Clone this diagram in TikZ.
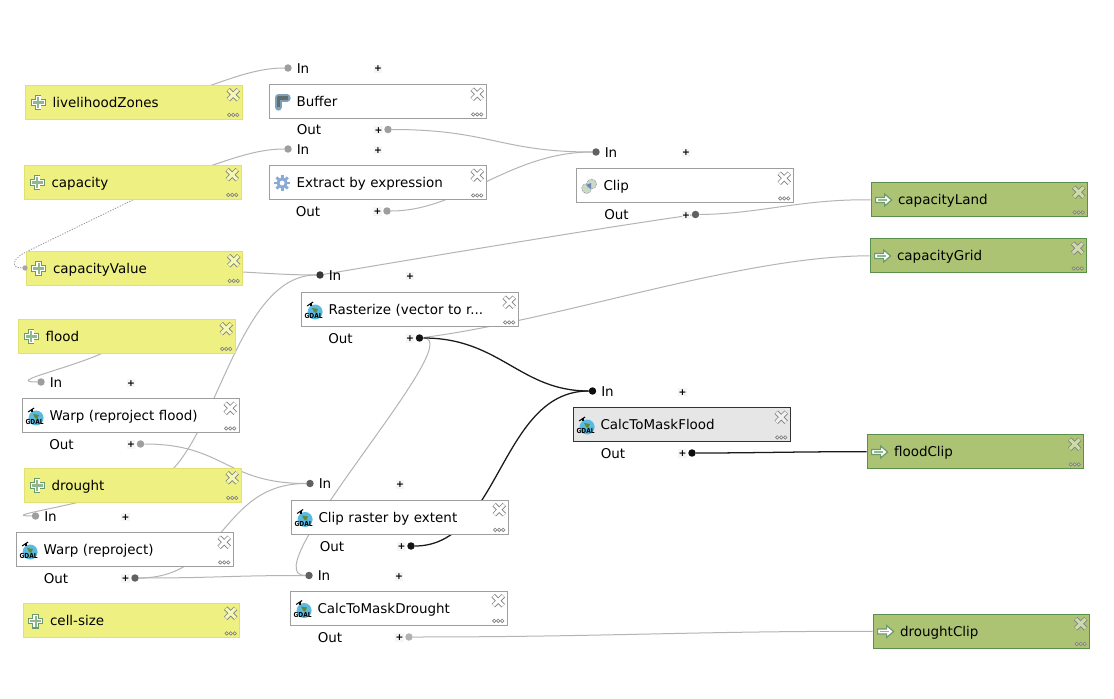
\documentclass[tikz,border=0pt]{standalone}
\usepackage{fontspec}
\setmainfont{DejaVu Sans}
\usetikzlibrary{backgrounds}
\definecolor{inputfill}{HTML}{EEF182}
\definecolor{inputedge}{HTML}{E2E070}
\definecolor{outputfill}{HTML}{ACC373}
\definecolor{outputedge}{HTML}{5B8F4E}
\definecolor{algoedge}{HTML}{9E9E9E}
\definecolor{selfill}{HTML}{E6E6E6}
\definecolor{seledge}{HTML}{333333}
\definecolor{wire}{HTML}{B4B4B4}
\definecolor{wiredark}{HTML}{1A1A1A}
\definecolor{iconedge}{HTML}{6C9A6C}
\definecolor{iconcore}{HTML}{8FB88F}
\definecolor{gearblue}{HTML}{8AAAD6}
\definecolor{bufblue}{HTML}{7FA0B8}
\definecolor{bufgrey}{HTML}{5F6F6F}
\definecolor{globeblue}{HTML}{5BBAE0}
\definecolor{globegreen}{HTML}{5E8A3C}
\definecolor{clipgreen}{HTML}{C9DAC9}
\definecolor{clipblue}{HTML}{6B86B0}
\tikzset{
  boxbase/.style={rectangle,anchor=north west,minimum width=162.4pt,minimum height=25.6pt,
    text width=162.4pt,inner xsep=0pt,inner ysep=0pt,align=left,line width=0.8pt,
    font=\fontsize{10.1}{12}\selectfont,text height=7.6pt,text depth=0pt},
  inputbox/.style={boxbase,fill=inputfill,draw=inputedge},
  outputbox/.style={boxbase,fill=outputfill,draw=outputedge},
  algobox/.style={boxbase,fill=white,draw=algoedge},
  selbox/.style={boxbase,fill=selfill,draw=seledge},
  portdot/.style={circle,inner sep=0pt,minimum size=5.6pt},
  portlabel/.style={anchor=west,inner sep=0pt,font=\fontsize{10.1}{12}\selectfont,text height=7pt,text depth=0pt},
  plusmark/.style={fill=black!4,inner sep=0pt,minimum size=6.5pt,font=\fontsize{7}{7}\bfseries\selectfont,text height=4.5pt,text depth=0pt},
  wireline/.style={draw=wire,line width=0.75pt},
  wirebold/.style={draw=wiredark,line width=0.95pt},
  wiredot/.style={draw=black!40,line width=0.6pt,dash pattern=on 1pt off 1pt},
  pics/closeicon/.style={code={
    \draw[line width=3.6pt,draw=black!50] (-5,-5)--(5,5) (-5,5)--(5,-5);
    \draw[line width=2.3pt,draw=#1!60!white] (-4.8,-4.8)--(4.8,4.8) (-4.8,4.8)--(4.8,-4.8);
  }},
  pics/dotsicon/.style={code={
    \foreach \q in {-4,0,4}{\draw[line width=.5pt,draw=black!50,fill=#1!70!white] (\q,0) circle[radius=1.7];}
  }},
  pics/crossicon/.style={code={
    \draw[line width=5pt,draw=iconedge] (-7.5,0)--(7.5,0) (0,-7.5)--(0,7.5);
    \draw[line width=3.6pt,draw=white] (-6.4,0)--(6.4,0) (0,-6.4)--(0,6.4);
    \draw[line width=1.6pt,draw=iconcore] (-5.5,0)--(5.5,0) (0,-5.5)--(0,5.5);
  }},
  pics/arrowicon/.style={code={
    \draw[line width=.9pt,draw=iconedge,fill=white] (-8,-2.5)--(1,-2.5)--(1,-6)--(8,0)--(1,6)--(1,2.5)--(-8,2.5)--cycle;
    \fill[iconcore] (-6,-.8) rectangle (3,.8);
  }},
  pics/buffericon/.style={code={
    \draw[line width=5.4pt,draw=bufblue,line join=round,line cap=round] (-4,5)--(-4,-4)--(5,-4);
    \draw[line width=2.4pt,draw=bufgrey,line join=round] (-4,5.5)--(-4,-4)--(5.5,-4);
  }},
  pics/gearicon/.style={code={
    \foreach \a in {0,45,...,315}{\draw[line width=2.2pt,draw=gearblue] (0,0)--(\a:8);}
    \fill[gearblue] (0,0) circle[radius=5.6];
    \fill[white] (0,0) circle[radius=2.4];
  }},
  pics/clipicon/.style={code={
    \draw[fill=clipgreen,draw=black!45,line width=.4pt,dash pattern=on .6pt off .6pt] (-2.5,2.5) circle[radius=5];
    \draw[fill=clipgreen,draw=black!45,line width=.4pt,dash pattern=on .6pt off .6pt] (2.5,-2) circle[radius=5];
    \fill[clipblue] (-3,-1)--(2,-3)--(2,3)--cycle;
  }},
  pics/gdalicon/.style={code={
    \fill[globeblue] (1,2) circle[radius=7.5];
    \fill[globegreen] (-2,-2)--(4,-1)--(2,3)--(0,2)--cycle;
    \draw[line width=.8pt,draw=black] (-7,-4)--(-1,-8);
    \fill[black] (-4,-7) rectangle (-2,-4);
    \node[inner sep=0pt,font=\fontsize{5.2}{5}\bfseries\selectfont,text=black,xscale=.85] at (-.5,6.2) {GDAL};
  }},
}
\newcommand{\mnode}[6]{%
  \node[#4] (#1) at (#2-.4,#3-.3) {\hspace*{20.2pt}#6};
  \path ([shift={(13,17.8)}]#1.north west) pic {#5};
}
\newcommand{\decor}[2]{%
  \path ([shift={(-9.5,10)}]#1.north east) pic {closeicon=#2};
  \path ([shift={(-9.5,-5)}]#1.south east) pic {dotsicon=#2};
}
\newcommand{\inport}[4]{%
  \node[portdot,fill=#4] (#1) at (#2,#3) {};
  \node[portlabel] (#1label) at (#2+8.5,#3+.8) {In};
  \node[plusmark] (#1plus) at (#2+90,#3+1) {+};
}
\newcommand{\outport}[4]{%
  \node[portdot,fill=#4] (#1) at (#2,#3) {};
  \node[portlabel] (#1label) at (#2-91.5,#3+.8) {Out};
  \node[plusmark] (#1plus) at (#2-9.5,#3+.5) {+};
}
\begin{document}
\begin{tikzpicture}[x=0.75pt,y=-0.75pt]
\useasboundingbox (0,0) rectangle (1114,699);
% inputs
\mnode{lz}{25.5}{85}{inputbox}{crossicon}{livelihoodZones}\decor{lz}{inputfill}
\mnode{cap}{24.5}{165}{inputbox}{crossicon}{capacity}\decor{cap}{inputfill}
\mnode{capv}{26}{251}{inputbox}{crossicon}{capacityValue}\decor{capv}{inputfill}
\mnode{flood}{18.5}{319}{inputbox}{crossicon}{flood}\decor{flood}{inputfill}
\mnode{drought}{24.5}{468}{inputbox}{crossicon}{drought}\decor{drought}{inputfill}
\mnode{cell}{23}{603.5}{inputbox}{crossicon}{cell-size}\decor{cell}{inputfill}
% algorithms
\mnode{warpf}{22.5}{398.5}{algobox}{gdalicon}{Warp (reproject flood)}\decor{warpf}{white}
\mnode{warp}{16.5}{532.5}{algobox}{gdalicon}{Warp (reproject)}\decor{warp}{white}
\mnode{buffer}{269.5}{84.5}{algobox}{buffericon}{Buffer}\decor{buffer}{white}
\mnode{extract}{269.5}{165.5}{algobox}{gearicon}{Extract by expression}\decor{extract}{white}
\mnode{raster}{301.5}{292.5}{algobox}{gdalicon}{Rasterize (vector to r...}\decor{raster}{white}
\mnode{clipr}{291.5}{500}{algobox}{gdalicon}{Clip raster by extent}\decor{clipr}{white}
\mnode{calcd}{290.5}{591}{algobox}{gdalicon}{CalcToMaskDrought}\decor{calcd}{white}
\mnode{clip}{576.5}{168.5}{algobox}{clipicon}{Clip}\decor{clip}{white}
\mnode{calcf}{573.5}{407.5}{selbox}{gdalicon}{CalcToMaskFlood}\decor{calcf}{selfill}
% outputs
\mnode{land}{871}{182.5}{outputbox}{arrowicon}{capacityLand}\decor{land}{outputfill}
\mnode{grid}{870}{238.5}{outputbox}{arrowicon}{capacityGrid}\decor{grid}{outputfill}
\mnode{fclip}{867}{434.5}{outputbox}{arrowicon}{floodClip}\decor{fclip}{outputfill}
\mnode{dclip}{873}{614}{outputbox}{arrowicon}{droughtClip}\decor{dclip}{outputfill}
% ports
\inport{bufferin}{288}{68}{black!38}
\outport{bufferout}{388}{129.5}{black!38}
\inport{extractin}{288}{149}{black!38}
\outport{extractout}{387}{211}{black!38}
\inport{clipin}{596}{152}{black!62}
\outport{clipout}{695.5}{214.5}{black!62}
\inport{rasterin}{320}{275}{black!78}
\outport{rasterout}{419.5}{338}{black!92}
\inport{warpfin}{41}{382}{black!38}
\outport{warpfout}{140.5}{444}{black!38}
\inport{warpin}{35.5}{516}{black!38}
\outport{warpout}{135}{578}{black!62}
\inport{cliprin}{310}{483.5}{black!62}
\outport{cliprout}{411}{546}{black!92}
\inport{calcdin}{309}{575.5}{black!62}
\outport{calcdout}{409}{637}{black!30}
\inport{calcfin}{592.5}{391}{black!95}
\outport{calcfout}{692}{453}{black!95}
\node[portdot,fill=black!35,minimum size=4pt] (capvdot) at (25,268) {};
% connectors
\begin{pgfonlayer}{background}
\fill[white] (0,0) rectangle (1114,699);
\draw[wireline] (lz.center) .. controls (190,102) and (235,68) .. (bufferin);
\draw[wireline] (cap.center) .. controls (190,182) and (235,149) .. (extractin);
\draw[wiredot] (cap.south) -- (30,250) .. controls (10,259) and (11,268) .. (capvdot);
\draw[wireline] (capv.center) .. controls (240,270) and (270,275) .. (rasterin);
\draw[wireline] (drought.center) .. controls (212,498) and (225,275) .. (rasterin);
\draw[wireline] (clipout) .. controls (600,228) and (420,258) .. (rasterin);
\draw[wireline] (clipout) .. controls (760,214) and (800,199) .. (land.west);
\draw[wireline] (bufferout) .. controls (490,129.5) and (500,152) .. (clipin);
\draw[wireline] (extractout) .. controls (460,211) and (510,152) .. (clipin);
\draw[wireline] (rasterout) .. controls (560,320) and (740,256) .. (grid.west);
\draw[wireline] (rasterout) .. controls (470,338) and (250,575) .. (calcdin);
\draw[wireline] (warpfout) .. controls (225,444) and (225,483.5) .. (cliprin);
\draw[wireline] (warpout) .. controls (225,578) and (220,483.5) .. (cliprin);
\draw[wireline] (warpout) .. controls (220,578) and (225,575.5) .. (calcdin);
\draw[wireline] (flood.center) .. controls (115,360) and (-5,382) .. (warpfin);
\draw[wireline] (drought.center) .. controls (90,505) and (-5,516) .. (warpin);
\draw[wireline] (calcdout) .. controls (600,637) and (700,631) .. (dclip.west);
\draw[wirebold] (rasterout) .. controls (500,338) and (520,391) .. (calcfin);
\draw[wirebold] (cliprout) .. controls (500,546) and (500,391) .. (calcfin);
\draw[wirebold] (calcfout) .. controls (760,453) and (800,451.5) .. (fclip.west);
\end{pgfonlayer}
\end{tikzpicture}
\end{document}
